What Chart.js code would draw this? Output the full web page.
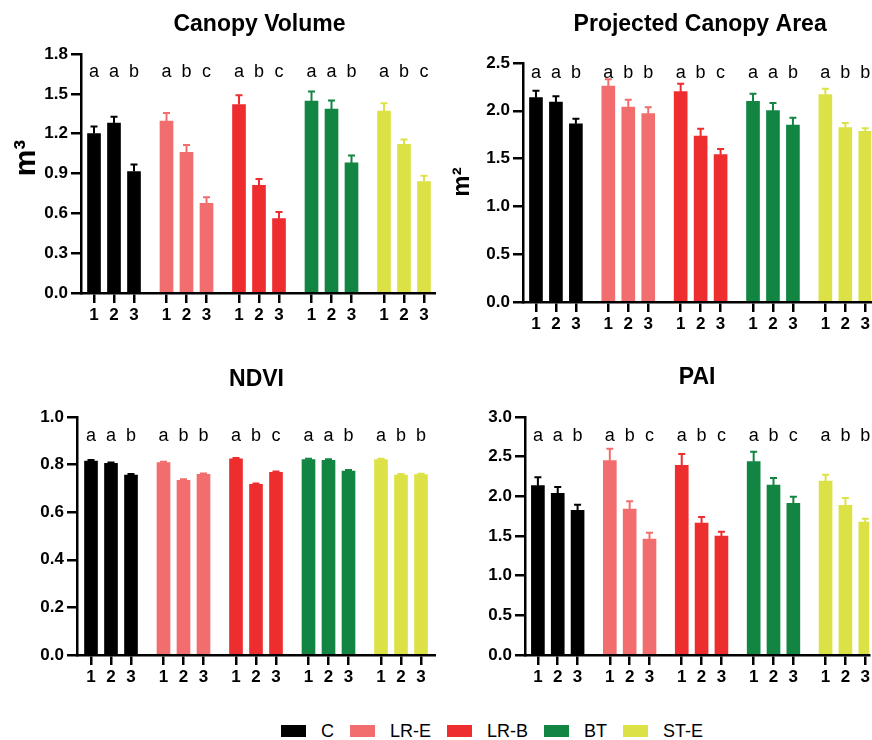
<!DOCTYPE html>
<html><head><meta charset="utf-8">
<script src="https://cdn.jsdelivr.net/npm/chart.js@4.4.1/dist/chart.umd.min.js"></script>
<style>
html,body{margin:0;padding:0;background:#fff;}
body{width:872px;height:740px;position:relative;overflow:hidden;font-family:"Liberation Sans",Arial,sans-serif;}
canvas{position:absolute;}
#legend{position:absolute;left:281px;top:720px;display:flex;align-items:center;font-size:18px;color:#000;line-height:22px;}
#legend .it{display:flex;align-items:center;margin-right:16px;}
#legend .sw{display:inline-block;width:25px;height:12px;margin-right:15px;}
</style></head><body>
<canvas id="c1" width="436" height="340" style="left:0;top:0"></canvas>
<canvas id="c2" width="436" height="340" style="left:436px;top:0"></canvas>
<canvas id="c3" width="436" height="360" style="left:0;top:340px"></canvas>
<canvas id="c4" width="436" height="360" style="left:436px;top:340px"></canvas>
<div id="legend"></div>
<script>
const groups = ['C', 'LR-E', 'LR-B', 'BT', 'ST-E'];
const sessions = ['1', '2', '3'];
const groupColors = ['#000000', '#F26E6E', '#EE2D2F', '#128542', '#DCE246'];

// Canopy Volume (m³)
const volumeMean = [[1.20, 1.28, 0.915], [1.295, 1.06, 0.675], [1.42, 0.81, 0.56], [1.445, 1.385, 0.98], [1.37, 1.12, 0.84]];
const volumeErr  = [[0.054, 0.047, 0.053], [0.060, 0.055, 0.047], [0.070, 0.048, 0.050], [0.073, 0.065, 0.055], [0.060, 0.037, 0.043]];
const volumeLetters = [['a','a','b'], ['a','b','c'], ['a','b','c'], ['a','a','b'], ['a','b','c']];

// Projected Canopy Area (m²)
const areaMean = [[2.137, 2.092, 1.865], [2.259, 2.04, 1.97], [2.20, 1.736, 1.541], [2.099, 2.001, 1.851], [2.169, 1.824, 1.785]];
const areaErr  = [[0.073, 0.059, 0.053], [0.070, 0.076, 0.066], [0.084, 0.077, 0.059], [0.080, 0.081, 0.077], [0.062, 0.049, 0.032]];
const areaLetters = [['a','a','b'], ['a','b','b'], ['a','b','c'], ['a','a','b'], ['a','b','b']];

// NDVI
const ndviMean = [[0.815, 0.805, 0.756], [0.808, 0.734, 0.759], [0.824, 0.717, 0.767], [0.821, 0.818, 0.773], [0.821, 0.756, 0.758]];
const ndviErr  = [[0.004, 0.004, 0.004], [0.004, 0.004, 0.004], [0.004, 0.004, 0.004], [0.004, 0.004, 0.004], [0.004, 0.004, 0.004]];
const ndviLetters = [['a','a','b'], ['a','b','b'], ['a','b','c'], ['a','a','b'], ['a','b','b']];

// PAI
const paiMean = [[2.134, 2.038, 1.824], [2.45, 1.84, 1.462], [2.391, 1.664, 1.50], [2.437, 2.143, 1.912], [2.193, 1.887, 1.676]];
const paiErr  = [[0.106, 0.080, 0.071], [0.150, 0.097, 0.080], [0.143, 0.075, 0.055], [0.126, 0.088, 0.084], [0.080, 0.092, 0.042]];
const paiLetters = [['a','a','b'], ['a','b','c'], ['a','b','c'], ['a','b','c'], ['a','b','b']];

const FONT = '"Liberation Sans", Arial, Helvetica, sans-serif';
const groupPitch = 3.625;
function xPos(g, j) { return g * groupPitch + j; }

function makePanel(id, cfg) {
  const datasets = groups.map((g, gi) => ({
    label: g,
    data: cfg.mean[gi].map((v, j) => ({ x: xPos(gi, j), y: v })),
    backgroundColor: groupColors[gi],
    borderWidth: 0,
    barThickness: 13,
    grouped: false
  }));
  const tickVals = [];
  groups.forEach((g, gi) => sessions.forEach((s, j) => tickVals.push(xPos(gi, j))));

  const annot = {
    id: 'annot',
    afterDatasetsDraw(chart) {
      const ctx = chart.ctx, xS = chart.scales.x, yS = chart.scales.y, ca = chart.chartArea;
      ctx.save();
      // error bars
      groups.forEach((g, gi) => {
        cfg.err[gi].forEach((e, j) => {
          const v = cfg.mean[gi][j];
          const x = xS.getPixelForValue(xPos(gi, j));
          const y0 = yS.getPixelForValue(v), y1 = yS.getPixelForValue(v + e);
          ctx.strokeStyle = groupColors[gi];
          ctx.lineWidth = 2;
          ctx.beginPath();
          ctx.moveTo(x, y0); ctx.lineTo(x, y1);
          ctx.moveTo(x - 3.5, y1); ctx.lineTo(x + 3.5, y1);
          ctx.stroke();
        });
      });
      // significance letters
      ctx.fillStyle = '#000';
      ctx.font = '18px ' + FONT;
      ctx.textAlign = 'center';
      ctx.textBaseline = 'alphabetic';
      groups.forEach((g, gi) => {
        cfg.letters[gi].forEach((l, j) => {
          ctx.fillText(l, xS.getPixelForValue(xPos(gi, j)), ca.top + cfg.letterDy);
        });
      });
      // title
      ctx.font = 'bold 23px ' + FONT;
      ctx.fillText(cfg.title, (ca.left + ca.right) / 2 + (cfg.titleDx || 0), cfg.titleY);
      // y axis title
      if (cfg.yTitle) {
        ctx.translate(cfg.ytX, cfg.ytY);
        ctx.rotate(-Math.PI / 2);
        ctx.font = 'bold ' + cfg.ytSize + 'px ' + FONT;
        ctx.fillText(cfg.yTitle, 0, 0);
      }
      ctx.restore();
    }
  };

  const yGrid = { display: true, drawOnChartArea: false, drawTicks: true, tickLength: 10, lineWidth: 2.5, color: '#000' };
  const xGrid = { display: true, offset: false, drawOnChartArea: false, drawTicks: true, tickLength: 10, lineWidth: 2.5, color: '#000' };
  const axisBorder = { display: true, color: '#000', width: 2.5 };
  const tickFont = { family: FONT, size: 17, weight: 'bold' };

  new Chart(document.getElementById(id), {
    type: 'bar',
    data: { datasets },
    options: {
      responsive: false,
      animation: false,
      devicePixelRatio: 1,
      layout: { padding: { top: cfg.top, left: 0, right: 0, bottom: 0 } },
      plugins: { legend: { display: false }, tooltip: { enabled: false }, title: { display: false } },
      scales: {
        x: {
          type: 'linear', min: cfg.xmin, max: cfg.xmax, offset: false,
          afterBuildTicks: s => { s.ticks = tickVals.map(v => ({ value: v })); },
          afterFit: s => { s.height = cfg.xh; },
          ticks: { autoSkip: false, maxRotation: 0, minRotation: 0, padding: 2, color: '#000', font: tickFont,
                   callback: (v, i) => sessions[i % sessions.length] },
          grid: xGrid, border: axisBorder
        },
        y: {
          min: 0, max: cfg.ymax,
          afterFit: s => { s.width = cfg.yw; },
          ticks: { stepSize: cfg.step, padding: 3, color: '#000', font: tickFont,
                   callback: v => Number(v).toFixed(1) },
          grid: yGrid, border: axisBorder
        }
      }
    },
    plugins: [annot]
  });
}

makePanel('c1', { mean: volumeMean, err: volumeErr, letters: volumeLetters, title: 'Canopy Volume',
  top: 54, yw: 81, xh: 47, xmin: -0.65, xmax: 17.1, ymax: 1.8, step: 0.3,
  letterDy: 23, titleY: 31, titleDx: 1, yTitle: 'm³', ytX: 35, ytY: 158, ytSize: 30 });
makePanel('c2', { mean: areaMean, err: areaErr, letters: areaLetters, title: 'Projected Canopy Area',
  top: 63, yw: 87, xh: 38, xmin: -0.65, xmax: 16.8, ymax: 2.5, step: 0.5,
  letterDy: 15, titleY: 31, titleDx: 3, yTitle: 'm²', ytX: 33, ytY: 182, ytSize: 24 });
makePanel('c3', { mean: ndviMean, err: ndviErr, letters: ndviLetters, title: 'NDVI',
  top: 77, yw: 77, xh: 45, xmin: -0.7, xmax: 17.25, ymax: 1.0, step: 0.2,
  letterDy: 24, titleY: 46, titleDx: 0 });
makePanel('c4', { mean: paiMean, err: paiErr, letters: paiLetters, title: 'PAI',
  top: 77, yw: 89, xh: 45, xmin: -0.65, xmax: 16.7, ymax: 3.0, step: 0.5,
  letterDy: 24, titleY: 44, titleDx: 0 });

// legend
const legend = document.getElementById('legend');
groups.forEach((g, gi) => {
  const it = document.createElement('div');
  it.className = 'it';
  const sw = document.createElement('span');
  sw.className = 'sw';
  sw.style.background = groupColors[gi];
  const tx = document.createElement('span');
  tx.textContent = g;
  it.appendChild(sw); it.appendChild(tx);
  legend.appendChild(it);
});
</script>
</body></html>
